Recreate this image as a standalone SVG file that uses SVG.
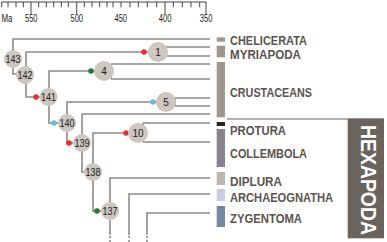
<svg xmlns="http://www.w3.org/2000/svg" width="387" height="242" viewBox="0 0 387 242">
<style>
.ax{stroke:#444;stroke-width:1;fill:none}
.axt{font-family:"Liberation Sans",Arial,sans-serif;font-size:10px;fill:#222}
.br{stroke:#8c8c8c;stroke-width:1.6;fill:none}
.dash{stroke:#8c8c8c;stroke-width:1.6;fill:none;stroke-dasharray:2 2}
.nd{fill:#cdc6c1}
.nt{font-family:"Liberation Sans",Arial,sans-serif;font-size:10px;fill:#222;text-anchor:middle}
.red{fill:#e8302a}.grn{fill:#25793a}.cyn{fill:#6cbcd0}
.lab{font-family:"Liberation Sans",Arial,sans-serif;font-weight:bold;font-size:13.5px;fill:#5b534e}
</style>
<rect width="387" height="242" fill="#fff"/>
<g id="axis">
<path class="ax" d="M1.5 2H206.5M1.7 2V7.3M8 2V7.3M16 2V7.3M23.3 2V7.3M31 2V14M38.7 2V7.3M46.3 2V7.3M53.7 2V7.3M61.3 2V7.3M68.3 2V7.3M76.7 2V14M84.3 2V7.3M92 2V7.3M99.7 2V7.3M107 2V7.3M113 2V7.3M121 2V7.3M130 2V7.3M138.3 2V7.3M147.3 2V7.3M156.7 2V7.3M165 2V14M173.3 2V7.3M182.3 2V7.3M191 2V7.3M199.7 2V7.3M206 2V14"/>
<text class="axt" x="1.5" y="22" textLength="11" lengthAdjust="spacingAndGlyphs">Ma</text>
<text class="axt" x="25" y="22" textLength="12.5" lengthAdjust="spacingAndGlyphs">550</text>
<text class="axt" x="70.5" y="22" textLength="12.5" lengthAdjust="spacingAndGlyphs">500</text>
<text class="axt" x="114.5" y="22" textLength="12.5" lengthAdjust="spacingAndGlyphs">450</text>
<text class="axt" x="158.8" y="22" textLength="12.5" lengthAdjust="spacingAndGlyphs">400</text>
<text class="axt" x="199.8" y="22" textLength="12.5" lengthAdjust="spacingAndGlyphs">350</text>
</g>
<g id="connectors">
<path class="br" d="M210 39H13V59M13 59V74H24"/>
<path class="br" d="M158 52H26V97H49"/>
<path class="br" d="M163 47V56M163 47H210M163 56H210"/>
<path class="br" d="M104 71H49V123H67"/>
<path class="br" d="M111 64V79M111 64H210M111 79H210"/>
<path class="br" d="M166 102H67V143H82"/>
<path class="br" d="M175 98V106M175 98H210M175 106H210"/>
<path class="br" d="M210 114H82V172H93"/>
<path class="br" d="M138 133H93V211H110"/>
<path class="br" d="M143 123V142M143 123H210M143 142H210"/>
<path class="br" d="M210 178H110V235M210 194H129V235M210 213H147V235"/>
<path class="dash" d="M110 236V242M129 236V242M147 236V242"/>
<path d="M227 119H348" stroke="#6b635e" stroke-width="1" fill="none"/>
</g>
<g id="dots">
<circle class="red" cx="144" cy="52" r="2.8"/>
<circle class="red" cx="36" cy="97" r="2.8"/>
<circle class="grn" cx="91" cy="71" r="2.8"/>
<circle class="cyn" cx="54" cy="123" r="2.8"/>
<circle class="cyn" cx="153" cy="102" r="2.8"/>
<circle class="red" cx="69" cy="143" r="2.8"/>
<circle class="red" cx="126" cy="133" r="2.8"/>
<circle class="grn" cx="97" cy="211" r="2.8"/>
</g>
<g id="n143"><circle class="nd" cx="13" cy="59" r="9"/><text class="nt" x="13" y="62.5" textLength="15" lengthAdjust="spacingAndGlyphs">143</text></g>
<g id="n142"><circle class="nd" cx="25" cy="75" r="9"/><text class="nt" x="25" y="78.5" textLength="15" lengthAdjust="spacingAndGlyphs">142</text></g>
<g id="n141"><circle class="nd" cx="48.5" cy="97" r="9"/><text class="nt" x="48.5" y="100.5" textLength="15" lengthAdjust="spacingAndGlyphs">141</text></g>
<g id="n140"><circle class="nd" cx="67" cy="123" r="9"/><text class="nt" x="67" y="126.5" textLength="15" lengthAdjust="spacingAndGlyphs">140</text></g>
<g id="n139"><circle class="nd" cx="82" cy="143" r="9"/><text class="nt" x="82" y="146.5" textLength="15" lengthAdjust="spacingAndGlyphs">139</text></g>
<g id="n138"><circle class="nd" cx="93" cy="172" r="9"/><text class="nt" x="93" y="175.5" textLength="15" lengthAdjust="spacingAndGlyphs">138</text></g>
<g id="n137"><circle class="nd" cx="110" cy="211" r="9"/><text class="nt" x="110" y="214.5" textLength="15" lengthAdjust="spacingAndGlyphs">137</text></g>
<g id="n1"><circle class="nd" cx="158" cy="52" r="10"/><text class="nt" x="158" y="55.5">1</text></g>
<g id="n4"><circle class="nd" cx="104" cy="71" r="10"/><text class="nt" x="104" y="74.5">4</text></g>
<g id="n5"><circle class="nd" cx="166" cy="102" r="10"/><text class="nt" x="166" y="105.5">5</text></g>
<g id="n10"><circle class="nd" cx="138" cy="133" r="10"/><text class="nt" x="138" y="136.5">10</text></g>
<g id="bars">
<rect x="216.7" y="37.3" width="8.3" height="4.4" fill="#a0958f"/>
<rect x="216.7" y="45.7" width="8.3" height="11.6" fill="#a0958f"/>
<rect x="216.7" y="62" width="8.3" height="55.3" fill="#a0958f"/>
<rect x="216.7" y="122" width="8.3" height="4" fill="#222"/>
<rect x="216.7" y="129" width="8.3" height="38" fill="#8b8291"/>
<rect x="216.7" y="172" width="8.3" height="13" fill="#bcb4ae"/>
<rect x="216.7" y="189" width="8.3" height="12" fill="#c8cce4"/>
<rect x="216.7" y="206" width="8.3" height="21" fill="#7a85a3"/>
</g>
<g id="labels">
<text class="lab" x="230" y="45" textLength="77" lengthAdjust="spacingAndGlyphs">CHELICERATA</text>
<text class="lab" x="230" y="59" textLength="71" lengthAdjust="spacingAndGlyphs">MYRIAPODA</text>
<text class="lab" x="230" y="96.7" textLength="82" lengthAdjust="spacingAndGlyphs">CRUSTACEANS</text>
<text class="lab" x="230" y="135" textLength="56" lengthAdjust="spacingAndGlyphs">PROTURA</text>
<text class="lab" x="230" y="157.7" textLength="77" lengthAdjust="spacingAndGlyphs">COLLEMBOLA</text>
<text class="lab" x="230" y="185.7" textLength="52" lengthAdjust="spacingAndGlyphs">DIPLURA</text>
<text class="lab" x="230" y="202" textLength="103" lengthAdjust="spacingAndGlyphs">ARCHAEOGNATHA</text>
<text class="lab" x="230" y="223.3" textLength="72" lengthAdjust="spacingAndGlyphs">ZYGENTOMA</text>
</g>
<g id="hexapoda">
<rect x="347.7" y="118.3" width="36.3" height="120" fill="#6b635e"/>
<text transform="translate(360.5,180) rotate(90)" text-anchor="middle" font-family="Liberation Sans,Arial,sans-serif" font-weight="bold" font-size="22" fill="#fff" textLength="110" lengthAdjust="spacingAndGlyphs">HEXAPODA</text>
</g>
</svg>
